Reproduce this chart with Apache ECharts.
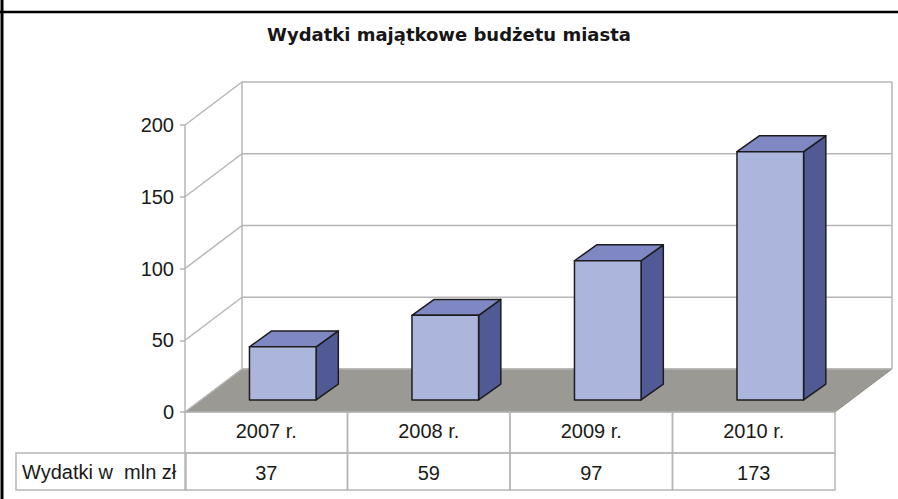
<!DOCTYPE html>
<html>
<head>
<meta charset="utf-8">
<style>
  html, body { margin: 0; padding: 0; background: #fff; }
  #chart { width: 898px; height: 499px; }
</style>
<script src="https://cdn.jsdelivr.net/npm/echarts@6/dist/echarts.min.js"></script>
</head>
<body>
<div id="chart"></div>
<script>
// dane z wykresu
var years = ['2007 r.', '2008 r.', '2009 r.', '2010 r.'];
var spending = [37, 59, 97, 173];
var yTicks = [0, 50, 100, 150, 200];
var rowLabel = 'Wydatki w  mln zł';
var chartTitle = 'Wydatki majątkowe budżetu miasta';

var FONT = '"Liberation Sans", Arial, sans-serif';
// wektor glebi 3D (przesuniecie sciany tylnej)
var DX = 57, DY = -43;
var gridColor = '#b6b6b6';
var textColor = '#1a1a1a';

var chart = echarts.init(document.getElementById('chart'), null, { renderer: 'svg' });

function renderWalls(params, api) {
  var cs = params.coordSys;
  var v = api.value(1);
  var y = api.coord([0, v])[1];
  var x0 = cs.x, x1 = cs.x + cs.width;
  var kids = [];
  if (v === 0) {
    kids.push({
      type: 'polygon',
      shape: { points: [[x0, y], [x0 + DX, y + DY], [x1 + DX, y + DY], [x1, y]] },
      style: { fill: '#9b9994', stroke: '#8f8d88', lineWidth: 1 }
    });
  }
  kids.push({
    type: 'line',
    shape: { x1: x0, y1: y, x2: x0 + DX, y2: y + DY },
    style: { stroke: gridColor, lineWidth: 1.5 }
  });
  kids.push({
    type: 'line',
    shape: { x1: x0 + DX, y1: y + DY, x2: x1 + DX, y2: y + DY },
    style: { stroke: gridColor, lineWidth: 1.5 }
  });
  if (v === yTicks[yTicks.length - 1]) {
    var yb = api.coord([0, 0])[1] + DY;
    kids.push({
      type: 'line',
      shape: { x1: x0 + DX, y1: y + DY, x2: x0 + DX, y2: yb },
      style: { stroke: gridColor, lineWidth: 1.5 }
    });
    kids.push({
      type: 'line',
      shape: { x1: x1 + DX, y1: y + DY, x2: x1 + DX, y2: yb },
      style: { stroke: gridColor, lineWidth: 1.5 }
    });
  }
  return { type: 'group', children: kids };
}

function renderBar(params, api) {
  var idx = api.value(0);
  var top = api.coord([idx, api.value(1)]);
  var base = api.coord([idx, 0]);
  var bw = api.size([1, 0])[0] * 0.41;
  var fx = DX * 0.29, fy = DY * 0.28;
  var dx = DX * 0.39, dy = DY * 0.37;
  var L = top[0] - bw / 2 + fx, R = L + bw;
  var T = top[1] + fy, B = base[1] + fy;
  var stroke = { stroke: '#1c1c1c', lineWidth: 1.5, lineJoin: 'round' };
  return {
    type: 'group',
    children: [
      {
        type: 'polygon',
        shape: { points: [[R, T], [R + dx, T + dy], [R + dx, B + dy], [R, B]] },
        style: Object.assign({ fill: '#525a95' }, stroke)
      },
      {
        type: 'polygon',
        shape: { points: [[L, T], [R, T], [R + dx, T + dy], [L + dx, T + dy]] },
        style: Object.assign({ fill: '#8088c3' }, stroke)
      },
      {
        type: 'rect',
        shape: { x: L, y: T, width: bw, height: B - T },
        style: Object.assign({ fill: '#acb5dc' }, stroke)
      }
    ]
  };
}

function renderTable(params, api) {
  var idx = api.value(0);
  var p = api.coord([idx, 0]);
  var w = api.size([1, 0])[0];
  var x = p[0] - w / 2, y = p[1];
  var line = { fill: 'none', stroke: gridColor, lineWidth: 1.5 };
  return {
    type: 'group',
    children: [
      { type: 'rect', shape: { x: x, y: y, width: w, height: 41 }, style: line },
      { type: 'rect', shape: { x: x, y: y + 41, width: w, height: 37 }, style: line },
      {
        type: 'text',
        style: {
          text: String(api.value(1)), x: p[0], y: y + 61,
          align: 'center', verticalAlign: 'middle',
          fontSize: 20, fontFamily: FONT, fill: textColor
        }
      }
    ]
  };
}

var option = {
  animation: false,
  title: {
    text: chartTitle,
    left: 'center',
    top: 20,
    textStyle: { fontSize: 18, fontWeight: 'bold', fontFamily: '"DejaVu Sans", sans-serif', color: '#161616' }
  },
  grid: { left: 185, right: 63, top: 125, bottom: 87 },
  xAxis: {
    type: 'category',
    data: years,
    axisLine: { show: false },
    axisTick: { show: false },
    axisLabel: { fontSize: 20, fontFamily: FONT, color: textColor, margin: 9 }
  },
  yAxis: {
    type: 'value',
    min: 0,
    max: 200,
    interval: 50,
    axisLine: { show: true, lineStyle: { color: gridColor, width: 1.5 } },
    axisTick: { show: true, length: 5, lineStyle: { color: gridColor, width: 1.5 } },
    axisLabel: { fontSize: 20, fontFamily: FONT, color: textColor, margin: 11 },
    splitLine: { show: false }
  },
  graphic: [
    { type: 'line', shape: { x1: 0, y1: 12, x2: 898, y2: 12 }, style: { stroke: '#000', lineWidth: 2.5 } },
    { type: 'line', shape: { x1: 2, y1: 0, x2: 2, y2: 499 }, style: { stroke: '#000', lineWidth: 3 } },
    { type: 'rect', shape: { x: 16, y: 453, width: 170, height: 37 }, style: { fill: 'none', stroke: gridColor, lineWidth: 1.5 } },
    {
      type: 'text', left: 22, top: 462,
      style: { text: rowLabel, fontSize: 20, fontFamily: FONT, fill: textColor }
    }
  ],
  series: [
    {
      type: 'custom',
      name: 'walls',
      renderItem: renderWalls,
      data: yTicks.map(function (v) { return [0, v]; }),
      z: 1,
      silent: true
    },
    {
      type: 'custom',
      name: 'table',
      renderItem: renderTable,
      data: spending.map(function (v, i) { return [i, v]; }),
      z: 1,
      silent: true
    },
    {
      type: 'custom',
      name: 'Wydatki',
      renderItem: renderBar,
      data: spending.map(function (v, i) { return [i, v]; }),
      z: 3
    }
  ]
};

chart.setOption(option);
</script>
</body>
</html>
